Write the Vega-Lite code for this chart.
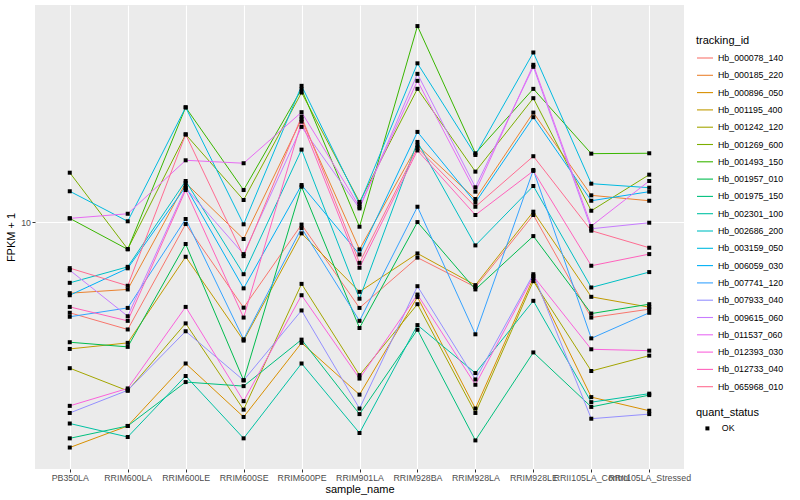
{
"$schema": "https://vega.github.io/schema/vega-lite/v6.json",
"width": 649, "height": 464,
"autosize": {"type": "none"},
"padding": {"left": 35, "top": 5, "right": 116, "bottom": 31},
"background": "white",
"config": {
  "view": {"fill": "#EBEBEB", "stroke": null},
  "font": "Liberation Sans",
  "axis": {"domain": false, "gridColor": "white", "gridWidth": 1.1, "tickColor": "#333333", "tickSize": 3, "labelColor": "#4D4D4D", "labelFontSize": 8.8, "titleFontSize": 11, "titleFontWeight": "normal", "titleColor": "black"}
},
"data": {"values": [
{"tracking_id":"Hb_000078_140","sample_name":"PB350LA","FPKM":5.00,"quant_status":"OK"},
{"tracking_id":"Hb_000078_140","sample_name":"RRIM600LA","FPKM":4.40,"quant_status":"OK"},
{"tracking_id":"Hb_000078_140","sample_name":"RRIM600LE","FPKM":9.87,"quant_status":"OK"},
{"tracking_id":"Hb_000078_140","sample_name":"RRIM600SE","FPKM":5.20,"quant_status":"OK"},
{"tracking_id":"Hb_000078_140","sample_name":"RRIM600PE","FPKM":9.83,"quant_status":"OK"},
{"tracking_id":"Hb_000078_140","sample_name":"RRIM901LA","FPKM":5.19,"quant_status":"OK"},
{"tracking_id":"Hb_000078_140","sample_name":"RRIM928BA","FPKM":7.63,"quant_status":"OK"},
{"tracking_id":"Hb_000078_140","sample_name":"RRIM928LA","FPKM":6.09,"quant_status":"OK"},
{"tracking_id":"Hb_000078_140","sample_name":"RRIM928LE","FPKM":10.58,"quant_status":"OK"},
{"tracking_id":"Hb_000078_140","sample_name":"RRII105LA_Control","FPKM":4.82,"quant_status":"OK"},
{"tracking_id":"Hb_000078_140","sample_name":"RRII105LA_Stressed","FPKM":5.14,"quant_status":"OK"},
{"tracking_id":"Hb_000185_220","sample_name":"PB350LA","FPKM":5.81,"quant_status":"OK"},
{"tracking_id":"Hb_000185_220","sample_name":"RRIM600LA","FPKM":5.98,"quant_status":"OK"},
{"tracking_id":"Hb_000185_220","sample_name":"RRIM600LE","FPKM":13.52,"quant_status":"OK"},
{"tracking_id":"Hb_000185_220","sample_name":"RRIM600SE","FPKM":8.80,"quant_status":"OK"},
{"tracking_id":"Hb_000185_220","sample_name":"RRIM600PE","FPKM":22.05,"quant_status":"OK"},
{"tracking_id":"Hb_000185_220","sample_name":"RRIM901LA","FPKM":8.13,"quant_status":"OK"},
{"tracking_id":"Hb_000185_220","sample_name":"RRIM928BA","FPKM":18.03,"quant_status":"OK"},
{"tracking_id":"Hb_000185_220","sample_name":"RRIM928LA","FPKM":11.96,"quant_status":"OK"},
{"tracking_id":"Hb_000185_220","sample_name":"RRIM928LE","FPKM":23.19,"quant_status":"OK"},
{"tracking_id":"Hb_000185_220","sample_name":"RRII105LA_Control","FPKM":12.30,"quant_status":"OK"},
{"tracking_id":"Hb_000185_220","sample_name":"RRII105LA_Stressed","FPKM":11.80,"quant_status":"OK"},
{"tracking_id":"Hb_000896_050","sample_name":"PB350LA","FPKM":1.78,"quant_status":"OK"},
{"tracking_id":"Hb_000896_050","sample_name":"RRIM600LA","FPKM":2.10,"quant_status":"OK"},
{"tracking_id":"Hb_000896_050","sample_name":"RRIM600LE","FPKM":3.39,"quant_status":"OK"},
{"tracking_id":"Hb_000896_050","sample_name":"RRIM600SE","FPKM":2.25,"quant_status":"OK"},
{"tracking_id":"Hb_000896_050","sample_name":"RRIM600PE","FPKM":3.97,"quant_status":"OK"},
{"tracking_id":"Hb_000896_050","sample_name":"RRIM901LA","FPKM":2.67,"quant_status":"OK"},
{"tracking_id":"Hb_000896_050","sample_name":"RRIM928BA","FPKM":5.64,"quant_status":"OK"},
{"tracking_id":"Hb_000896_050","sample_name":"RRIM928LA","FPKM":2.40,"quant_status":"OK"},
{"tracking_id":"Hb_000896_050","sample_name":"RRIM928LE","FPKM":6.52,"quant_status":"OK"},
{"tracking_id":"Hb_000896_050","sample_name":"RRII105LA_Control","FPKM":2.62,"quant_status":"OK"},
{"tracking_id":"Hb_000896_050","sample_name":"RRII105LA_Stressed","FPKM":2.36,"quant_status":"OK"},
{"tracking_id":"Hb_001195_400","sample_name":"PB350LA","FPKM":3.79,"quant_status":"OK"},
{"tracking_id":"Hb_001195_400","sample_name":"RRIM600LA","FPKM":3.97,"quant_status":"OK"},
{"tracking_id":"Hb_001195_400","sample_name":"RRIM600LE","FPKM":7.68,"quant_status":"OK"},
{"tracking_id":"Hb_001195_400","sample_name":"RRIM600SE","FPKM":4.04,"quant_status":"OK"},
{"tracking_id":"Hb_001195_400","sample_name":"RRIM600PE","FPKM":9.19,"quant_status":"OK"},
{"tracking_id":"Hb_001195_400","sample_name":"RRIM901LA","FPKM":5.87,"quant_status":"OK"},
{"tracking_id":"Hb_001195_400","sample_name":"RRIM928BA","FPKM":7.88,"quant_status":"OK"},
{"tracking_id":"Hb_001195_400","sample_name":"RRIM928LA","FPKM":6.18,"quant_status":"OK"},
{"tracking_id":"Hb_001195_400","sample_name":"RRIM928LE","FPKM":10.85,"quant_status":"OK"},
{"tracking_id":"Hb_001195_400","sample_name":"RRII105LA_Control","FPKM":5.65,"quant_status":"OK"},
{"tracking_id":"Hb_001195_400","sample_name":"RRII105LA_Stressed","FPKM":5.22,"quant_status":"OK"},
{"tracking_id":"Hb_001242_120","sample_name":"PB350LA","FPKM":3.27,"quant_status":"OK"},
{"tracking_id":"Hb_001242_120","sample_name":"RRIM600LA","FPKM":2.75,"quant_status":"OK"},
{"tracking_id":"Hb_001242_120","sample_name":"RRIM600LE","FPKM":4.61,"quant_status":"OK"},
{"tracking_id":"Hb_001242_120","sample_name":"RRIM600SE","FPKM":2.38,"quant_status":"OK"},
{"tracking_id":"Hb_001242_120","sample_name":"RRIM600PE","FPKM":6.24,"quant_status":"OK"},
{"tracking_id":"Hb_001242_120","sample_name":"RRIM901LA","FPKM":3.10,"quant_status":"OK"},
{"tracking_id":"Hb_001242_120","sample_name":"RRIM928BA","FPKM":5.34,"quant_status":"OK"},
{"tracking_id":"Hb_001242_120","sample_name":"RRIM928LA","FPKM":2.32,"quant_status":"OK"},
{"tracking_id":"Hb_001242_120","sample_name":"RRIM928LE","FPKM":6.37,"quant_status":"OK"},
{"tracking_id":"Hb_001242_120","sample_name":"RRII105LA_Control","FPKM":3.20,"quant_status":"OK"},
{"tracking_id":"Hb_001242_120","sample_name":"RRII105LA_Stressed","FPKM":3.60,"quant_status":"OK"},
{"tracking_id":"Hb_001269_600","sample_name":"PB350LA","FPKM":14.63,"quant_status":"OK"},
{"tracking_id":"Hb_001269_600","sample_name":"RRIM600LA","FPKM":8.15,"quant_status":"OK"},
{"tracking_id":"Hb_001269_600","sample_name":"RRIM600LE","FPKM":19.62,"quant_status":"OK"},
{"tracking_id":"Hb_001269_600","sample_name":"RRIM600SE","FPKM":11.87,"quant_status":"OK"},
{"tracking_id":"Hb_001269_600","sample_name":"RRIM600PE","FPKM":27.04,"quant_status":"OK"},
{"tracking_id":"Hb_001269_600","sample_name":"RRIM901LA","FPKM":11.69,"quant_status":"OK"},
{"tracking_id":"Hb_001269_600","sample_name":"RRIM928BA","FPKM":27.82,"quant_status":"OK"},
{"tracking_id":"Hb_001269_600","sample_name":"RRIM928LA","FPKM":14.75,"quant_status":"OK"},
{"tracking_id":"Hb_001269_600","sample_name":"RRIM928LE","FPKM":25.90,"quant_status":"OK"},
{"tracking_id":"Hb_001269_600","sample_name":"RRII105LA_Control","FPKM":10.93,"quant_status":"OK"},
{"tracking_id":"Hb_001269_600","sample_name":"RRII105LA_Stressed","FPKM":14.41,"quant_status":"OK"},
{"tracking_id":"Hb_001493_150","sample_name":"PB350LA","FPKM":10.31,"quant_status":"OK"},
{"tracking_id":"Hb_001493_150","sample_name":"RRIM600LA","FPKM":8.13,"quant_status":"OK"},
{"tracking_id":"Hb_001493_150","sample_name":"RRIM600LE","FPKM":24.14,"quant_status":"OK"},
{"tracking_id":"Hb_001493_150","sample_name":"RRIM600SE","FPKM":12.81,"quant_status":"OK"},
{"tracking_id":"Hb_001493_150","sample_name":"RRIM600PE","FPKM":27.75,"quant_status":"OK"},
{"tracking_id":"Hb_001493_150","sample_name":"RRIM901LA","FPKM":9.67,"quant_status":"OK"},
{"tracking_id":"Hb_001493_150","sample_name":"RRIM928BA","FPKM":45.01,"quant_status":"OK"},
{"tracking_id":"Hb_001493_150","sample_name":"RRIM928LA","FPKM":16.98,"quant_status":"OK"},
{"tracking_id":"Hb_001493_150","sample_name":"RRIM928LE","FPKM":27.82,"quant_status":"OK"},
{"tracking_id":"Hb_001493_150","sample_name":"RRII105LA_Control","FPKM":16.93,"quant_status":"OK"},
{"tracking_id":"Hb_001493_150","sample_name":"RRII105LA_Stressed","FPKM":16.98,"quant_status":"OK"},
{"tracking_id":"Hb_001957_010","sample_name":"PB350LA","FPKM":3.99,"quant_status":"OK"},
{"tracking_id":"Hb_001957_010","sample_name":"RRIM600LA","FPKM":3.85,"quant_status":"OK"},
{"tracking_id":"Hb_001957_010","sample_name":"RRIM600LE","FPKM":8.47,"quant_status":"OK"},
{"tracking_id":"Hb_001957_010","sample_name":"RRIM600SE","FPKM":2.98,"quant_status":"OK"},
{"tracking_id":"Hb_001957_010","sample_name":"RRIM600PE","FPKM":13.14,"quant_status":"OK"},
{"tracking_id":"Hb_001957_010","sample_name":"RRIM901LA","FPKM":4.45,"quant_status":"OK"},
{"tracking_id":"Hb_001957_010","sample_name":"RRIM928BA","FPKM":10.02,"quant_status":"OK"},
{"tracking_id":"Hb_001957_010","sample_name":"RRIM928LA","FPKM":5.98,"quant_status":"OK"},
{"tracking_id":"Hb_001957_010","sample_name":"RRIM928LE","FPKM":9.00,"quant_status":"OK"},
{"tracking_id":"Hb_001957_010","sample_name":"RRII105LA_Control","FPKM":4.97,"quant_status":"OK"},
{"tracking_id":"Hb_001957_010","sample_name":"RRII105LA_Stressed","FPKM":5.34,"quant_status":"OK"},
{"tracking_id":"Hb_001975_150","sample_name":"PB350LA","FPKM":1.91,"quant_status":"OK"},
{"tracking_id":"Hb_001975_150","sample_name":"RRIM600LA","FPKM":2.10,"quant_status":"OK"},
{"tracking_id":"Hb_001975_150","sample_name":"RRIM600LE","FPKM":2.94,"quant_status":"OK"},
{"tracking_id":"Hb_001975_150","sample_name":"RRIM600SE","FPKM":2.85,"quant_status":"OK"},
{"tracking_id":"Hb_001975_150","sample_name":"RRIM600PE","FPKM":4.07,"quant_status":"OK"},
{"tracking_id":"Hb_001975_150","sample_name":"RRIM901LA","FPKM":2.30,"quant_status":"OK"},
{"tracking_id":"Hb_001975_150","sample_name":"RRIM928BA","FPKM":4.39,"quant_status":"OK"},
{"tracking_id":"Hb_001975_150","sample_name":"RRIM928LA","FPKM":1.88,"quant_status":"OK"},
{"tracking_id":"Hb_001975_150","sample_name":"RRIM928LE","FPKM":3.69,"quant_status":"OK"},
{"tracking_id":"Hb_001975_150","sample_name":"RRII105LA_Control","FPKM":2.43,"quant_status":"OK"},
{"tracking_id":"Hb_001975_150","sample_name":"RRII105LA_Stressed","FPKM":2.66,"quant_status":"OK"},
{"tracking_id":"Hb_002301_100","sample_name":"PB350LA","FPKM":2.14,"quant_status":"OK"},
{"tracking_id":"Hb_002301_100","sample_name":"RRIM600LA","FPKM":1.93,"quant_status":"OK"},
{"tracking_id":"Hb_002301_100","sample_name":"RRIM600LE","FPKM":3.08,"quant_status":"OK"},
{"tracking_id":"Hb_002301_100","sample_name":"RRIM600SE","FPKM":1.91,"quant_status":"OK"},
{"tracking_id":"Hb_002301_100","sample_name":"RRIM600PE","FPKM":3.39,"quant_status":"OK"},
{"tracking_id":"Hb_002301_100","sample_name":"RRIM901LA","FPKM":1.99,"quant_status":"OK"},
{"tracking_id":"Hb_002301_100","sample_name":"RRIM928BA","FPKM":4.55,"quant_status":"OK"},
{"tracking_id":"Hb_002301_100","sample_name":"RRIM928LA","FPKM":3.15,"quant_status":"OK"},
{"tracking_id":"Hb_002301_100","sample_name":"RRIM928LE","FPKM":5.48,"quant_status":"OK"},
{"tracking_id":"Hb_002301_100","sample_name":"RRII105LA_Control","FPKM":2.52,"quant_status":"OK"},
{"tracking_id":"Hb_002301_100","sample_name":"RRII105LA_Stressed","FPKM":2.69,"quant_status":"OK"},
{"tracking_id":"Hb_002686_200","sample_name":"PB350LA","FPKM":6.29,"quant_status":"OK"},
{"tracking_id":"Hb_002686_200","sample_name":"RRIM600LA","FPKM":7.11,"quant_status":"OK"},
{"tracking_id":"Hb_002686_200","sample_name":"RRIM600LE","FPKM":13.73,"quant_status":"OK"},
{"tracking_id":"Hb_002686_200","sample_name":"RRIM600SE","FPKM":6.72,"quant_status":"OK"},
{"tracking_id":"Hb_002686_200","sample_name":"RRIM600PE","FPKM":17.46,"quant_status":"OK"},
{"tracking_id":"Hb_002686_200","sample_name":"RRIM901LA","FPKM":5.57,"quant_status":"OK"},
{"tracking_id":"Hb_002686_200","sample_name":"RRIM928BA","FPKM":18.52,"quant_status":"OK"},
{"tracking_id":"Hb_002686_200","sample_name":"RRIM928LA","FPKM":8.38,"quant_status":"OK"},
{"tracking_id":"Hb_002686_200","sample_name":"RRIM928LE","FPKM":13.21,"quant_status":"OK"},
{"tracking_id":"Hb_002686_200","sample_name":"RRII105LA_Control","FPKM":6.07,"quant_status":"OK"},
{"tracking_id":"Hb_002686_200","sample_name":"RRII105LA_Stressed","FPKM":6.83,"quant_status":"OK"},
{"tracking_id":"Hb_003159_050","sample_name":"PB350LA","FPKM":12.69,"quant_status":"OK"},
{"tracking_id":"Hb_003159_050","sample_name":"RRIM600LA","FPKM":10.08,"quant_status":"OK"},
{"tracking_id":"Hb_003159_050","sample_name":"RRIM600LE","FPKM":24.14,"quant_status":"OK"},
{"tracking_id":"Hb_003159_050","sample_name":"RRIM600SE","FPKM":9.85,"quant_status":"OK"},
{"tracking_id":"Hb_003159_050","sample_name":"RRIM600PE","FPKM":28.47,"quant_status":"OK"},
{"tracking_id":"Hb_003159_050","sample_name":"RRIM901LA","FPKM":11.51,"quant_status":"OK"},
{"tracking_id":"Hb_003159_050","sample_name":"RRIM928BA","FPKM":33.83,"quant_status":"OK"},
{"tracking_id":"Hb_003159_050","sample_name":"RRIM928LA","FPKM":16.76,"quant_status":"OK"},
{"tracking_id":"Hb_003159_050","sample_name":"RRIM928LE","FPKM":36.76,"quant_status":"OK"},
{"tracking_id":"Hb_003159_050","sample_name":"RRII105LA_Control","FPKM":13.45,"quant_status":"OK"},
{"tracking_id":"Hb_003159_050","sample_name":"RRII105LA_Stressed","FPKM":13.04,"quant_status":"OK"},
{"tracking_id":"Hb_006059_030","sample_name":"PB350LA","FPKM":5.72,"quant_status":"OK"},
{"tracking_id":"Hb_006059_030","sample_name":"RRIM600LA","FPKM":7.03,"quant_status":"OK"},
{"tracking_id":"Hb_006059_030","sample_name":"RRIM600LE","FPKM":13.16,"quant_status":"OK"},
{"tracking_id":"Hb_006059_030","sample_name":"RRIM600SE","FPKM":6.03,"quant_status":"OK"},
{"tracking_id":"Hb_006059_030","sample_name":"RRIM600PE","FPKM":13.31,"quant_status":"OK"},
{"tracking_id":"Hb_006059_030","sample_name":"RRIM901LA","FPKM":7.82,"quant_status":"OK"},
{"tracking_id":"Hb_006059_030","sample_name":"RRIM928BA","FPKM":20.00,"quant_status":"OK"},
{"tracking_id":"Hb_006059_030","sample_name":"RRIM928LA","FPKM":11.64,"quant_status":"OK"},
{"tracking_id":"Hb_006059_030","sample_name":"RRIM928LE","FPKM":22.39,"quant_status":"OK"},
{"tracking_id":"Hb_006059_030","sample_name":"RRII105LA_Control","FPKM":11.80,"quant_status":"OK"},
{"tracking_id":"Hb_006059_030","sample_name":"RRII105LA_Stressed","FPKM":12.65,"quant_status":"OK"},
{"tracking_id":"Hb_007741_120","sample_name":"PB350LA","FPKM":4.85,"quant_status":"OK"},
{"tracking_id":"Hb_007741_120","sample_name":"RRIM600LA","FPKM":5.19,"quant_status":"OK"},
{"tracking_id":"Hb_007741_120","sample_name":"RRIM600LE","FPKM":10.26,"quant_status":"OK"},
{"tracking_id":"Hb_007741_120","sample_name":"RRIM600SE","FPKM":4.08,"quant_status":"OK"},
{"tracking_id":"Hb_007741_120","sample_name":"RRIM600PE","FPKM":9.57,"quant_status":"OK"},
{"tracking_id":"Hb_007741_120","sample_name":"RRIM901LA","FPKM":4.70,"quant_status":"OK"},
{"tracking_id":"Hb_007741_120","sample_name":"RRIM928BA","FPKM":11.27,"quant_status":"OK"},
{"tracking_id":"Hb_007741_120","sample_name":"RRIM928LA","FPKM":4.24,"quant_status":"OK"},
{"tracking_id":"Hb_007741_120","sample_name":"RRIM928LE","FPKM":14.94,"quant_status":"OK"},
{"tracking_id":"Hb_007741_120","sample_name":"RRII105LA_Control","FPKM":4.11,"quant_status":"OK"},
{"tracking_id":"Hb_007741_120","sample_name":"RRII105LA_Stressed","FPKM":5.00,"quant_status":"OK"},
{"tracking_id":"Hb_007933_040","sample_name":"PB350LA","FPKM":2.32,"quant_status":"OK"},
{"tracking_id":"Hb_007933_040","sample_name":"RRIM600LA","FPKM":2.76,"quant_status":"OK"},
{"tracking_id":"Hb_007933_040","sample_name":"RRIM600LE","FPKM":4.34,"quant_status":"OK"},
{"tracking_id":"Hb_007933_040","sample_name":"RRIM600SE","FPKM":2.98,"quant_status":"OK"},
{"tracking_id":"Hb_007933_040","sample_name":"RRIM600PE","FPKM":5.09,"quant_status":"OK"},
{"tracking_id":"Hb_007933_040","sample_name":"RRIM901LA","FPKM":2.40,"quant_status":"OK"},
{"tracking_id":"Hb_007933_040","sample_name":"RRIM928BA","FPKM":6.13,"quant_status":"OK"},
{"tracking_id":"Hb_007933_040","sample_name":"RRIM928LA","FPKM":3.00,"quant_status":"OK"},
{"tracking_id":"Hb_007933_040","sample_name":"RRIM928LE","FPKM":6.72,"quant_status":"OK"},
{"tracking_id":"Hb_007933_040","sample_name":"RRII105LA_Control","FPKM":2.22,"quant_status":"OK"},
{"tracking_id":"Hb_007933_040","sample_name":"RRII105LA_Stressed","FPKM":2.30,"quant_status":"OK"},
{"tracking_id":"Hb_009615_060","sample_name":"PB350LA","FPKM":6.93,"quant_status":"OK"},
{"tracking_id":"Hb_009615_060","sample_name":"RRIM600LA","FPKM":4.87,"quant_status":"OK"},
{"tracking_id":"Hb_009615_060","sample_name":"RRIM600LE","FPKM":13.01,"quant_status":"OK"},
{"tracking_id":"Hb_009615_060","sample_name":"RRIM600SE","FPKM":7.84,"quant_status":"OK"},
{"tracking_id":"Hb_009615_060","sample_name":"RRIM600PE","FPKM":20.78,"quant_status":"OK"},
{"tracking_id":"Hb_009615_060","sample_name":"RRIM901LA","FPKM":11.13,"quant_status":"OK"},
{"tracking_id":"Hb_009615_060","sample_name":"RRIM928BA","FPKM":31.21,"quant_status":"OK"},
{"tracking_id":"Hb_009615_060","sample_name":"RRIM928LA","FPKM":13.08,"quant_status":"OK"},
{"tracking_id":"Hb_009615_060","sample_name":"RRIM928LE","FPKM":32.94,"quant_status":"OK"},
{"tracking_id":"Hb_009615_060","sample_name":"RRII105LA_Control","FPKM":9.52,"quant_status":"OK"},
{"tracking_id":"Hb_009615_060","sample_name":"RRII105LA_Stressed","FPKM":9.97,"quant_status":"OK"},
{"tracking_id":"Hb_011537_060","sample_name":"PB350LA","FPKM":10.31,"quant_status":"OK"},
{"tracking_id":"Hb_011537_060","sample_name":"RRIM600LA","FPKM":10.68,"quant_status":"OK"},
{"tracking_id":"Hb_011537_060","sample_name":"RRIM600LE","FPKM":16.09,"quant_status":"OK"},
{"tracking_id":"Hb_011537_060","sample_name":"RRIM600SE","FPKM":15.73,"quant_status":"OK"},
{"tracking_id":"Hb_011537_060","sample_name":"RRIM600PE","FPKM":23.26,"quant_status":"OK"},
{"tracking_id":"Hb_011537_060","sample_name":"RRIM901LA","FPKM":11.27,"quant_status":"OK"},
{"tracking_id":"Hb_011537_060","sample_name":"RRIM928BA","FPKM":29.58,"quant_status":"OK"},
{"tracking_id":"Hb_011537_060","sample_name":"RRIM928LA","FPKM":12.65,"quant_status":"OK"},
{"tracking_id":"Hb_011537_060","sample_name":"RRIM928LE","FPKM":33.45,"quant_status":"OK"},
{"tracking_id":"Hb_011537_060","sample_name":"RRII105LA_Control","FPKM":9.72,"quant_status":"OK"},
{"tracking_id":"Hb_011537_060","sample_name":"RRII105LA_Stressed","FPKM":13.73,"quant_status":"OK"},
{"tracking_id":"Hb_012393_030","sample_name":"PB350LA","FPKM":2.45,"quant_status":"OK"},
{"tracking_id":"Hb_012393_030","sample_name":"RRIM600LA","FPKM":2.80,"quant_status":"OK"},
{"tracking_id":"Hb_012393_030","sample_name":"RRIM600LE","FPKM":5.23,"quant_status":"OK"},
{"tracking_id":"Hb_012393_030","sample_name":"RRIM600SE","FPKM":2.54,"quant_status":"OK"},
{"tracking_id":"Hb_012393_030","sample_name":"RRIM600PE","FPKM":5.72,"quant_status":"OK"},
{"tracking_id":"Hb_012393_030","sample_name":"RRIM901LA","FPKM":3.02,"quant_status":"OK"},
{"tracking_id":"Hb_012393_030","sample_name":"RRIM928BA","FPKM":5.75,"quant_status":"OK"},
{"tracking_id":"Hb_012393_030","sample_name":"RRIM928LA","FPKM":2.88,"quant_status":"OK"},
{"tracking_id":"Hb_012393_030","sample_name":"RRIM928LE","FPKM":6.62,"quant_status":"OK"},
{"tracking_id":"Hb_012393_030","sample_name":"RRII105LA_Control","FPKM":3.78,"quant_status":"OK"},
{"tracking_id":"Hb_012393_030","sample_name":"RRII105LA_Stressed","FPKM":3.74,"quant_status":"OK"},
{"tracking_id":"Hb_012733_040","sample_name":"PB350LA","FPKM":5.23,"quant_status":"OK"},
{"tracking_id":"Hb_012733_040","sample_name":"RRIM600LA","FPKM":4.70,"quant_status":"OK"},
{"tracking_id":"Hb_012733_040","sample_name":"RRIM600LE","FPKM":12.81,"quant_status":"OK"},
{"tracking_id":"Hb_012733_040","sample_name":"RRIM600SE","FPKM":4.82,"quant_status":"OK"},
{"tracking_id":"Hb_012733_040","sample_name":"RRIM600PE","FPKM":21.64,"quant_status":"OK"},
{"tracking_id":"Hb_012733_040","sample_name":"RRIM901LA","FPKM":7.06,"quant_status":"OK"},
{"tracking_id":"Hb_012733_040","sample_name":"RRIM928BA","FPKM":17.35,"quant_status":"OK"},
{"tracking_id":"Hb_012733_040","sample_name":"RRIM928LA","FPKM":10.58,"quant_status":"OK"},
{"tracking_id":"Hb_012733_040","sample_name":"RRIM928LE","FPKM":14.83,"quant_status":"OK"},
{"tracking_id":"Hb_012733_040","sample_name":"RRII105LA_Control","FPKM":7.17,"quant_status":"OK"},
{"tracking_id":"Hb_012733_040","sample_name":"RRII105LA_Stressed","FPKM":7.84,"quant_status":"OK"},
{"tracking_id":"Hb_065968_010","sample_name":"PB350LA","FPKM":7.04,"quant_status":"OK"},
{"tracking_id":"Hb_065968_010","sample_name":"RRIM600LA","FPKM":6.15,"quant_status":"OK"},
{"tracking_id":"Hb_065968_010","sample_name":"RRIM600LE","FPKM":19.62,"quant_status":"OK"},
{"tracking_id":"Hb_065968_010","sample_name":"RRIM600SE","FPKM":7.72,"quant_status":"OK"},
{"tracking_id":"Hb_065968_010","sample_name":"RRIM600PE","FPKM":22.49,"quant_status":"OK"},
{"tracking_id":"Hb_065968_010","sample_name":"RRIM901LA","FPKM":7.33,"quant_status":"OK"},
{"tracking_id":"Hb_065968_010","sample_name":"RRIM928BA","FPKM":17.69,"quant_status":"OK"},
{"tracking_id":"Hb_065968_010","sample_name":"RRIM928LA","FPKM":11.27,"quant_status":"OK"},
{"tracking_id":"Hb_065968_010","sample_name":"RRIM928LE","FPKM":16.60,"quant_status":"OK"},
{"tracking_id":"Hb_065968_010","sample_name":"RRII105LA_Control","FPKM":9.38,"quant_status":"OK"},
{"tracking_id":"Hb_065968_010","sample_name":"RRII105LA_Stressed","FPKM":8.23,"quant_status":"OK"}
]},
"encoding": {
  "x": {"field": "sample_name", "type": "nominal",
        "scale": {"type": "point", "padding": 0.6, "domain": ["PB350LA","RRIM600LA","RRIM600LE","RRIM600SE","RRIM600PE","RRIM901LA","RRIM928BA","RRIM928LA","RRIM928LE","RRII105LA_Control","RRII105LA_Stressed"]},
        "axis": {"title": "sample_name", "labelAngle": 0, "labelOverlap": false, "labelBound": false, "labelFlush": false, "labelPadding": 1.5, "titlePadding": 1, "grid": true}},
  "y": {"field": "FPKM", "type": "quantitative",
        "scale": {"type": "log", "domain": [1.51, 52.9], "nice": false, "zero": false},
        "axis": {"title": "FPKM + 1", "values": [10], "format": "d", "labelPadding": 1.5, "titlePadding": 4, "grid": true}}
},
"layer": [
  {"mark": {"type": "line", "strokeWidth": 1},
   "encoding": {
     "color": {"field": "tracking_id", "type": "nominal",
       "scale": {"domain": ["Hb_000078_140","Hb_000185_220","Hb_000896_050","Hb_001195_400","Hb_001242_120","Hb_001269_600","Hb_001493_150","Hb_001957_010","Hb_001975_150","Hb_002301_100","Hb_002686_200","Hb_003159_050","Hb_006059_030","Hb_007741_120","Hb_007933_040","Hb_009615_060","Hb_011537_060","Hb_012393_030","Hb_012733_040","Hb_065968_010"],
                 "range": ["#F8766D","#EA8331","#D89000","#C09B00","#A3A500","#7CAE00","#39B600","#00BB4E","#00BF7D","#00C1A3","#00BFC4","#00BAE0","#00B0F6","#35A2FF","#9590FF","#C77CFF","#E76BF3","#FA62DB","#FF62BC","#FF6C91"]},
       "legend": {"title": "tracking_id", "orient": "none", "legendX": 661, "legendY": 30, "titleFontSize": 11, "titleFontWeight": "normal", "titleColor": "black", "titlePadding": 3, "labelFontSize": 8.8, "labelColor": "black", "symbolType": "stroke", "symbolSize": 256, "symbolStrokeWidth": 1.1, "rowPadding": 3.3, "labelOffset": 4}},
     "order": {"value": null}
   }},
  {"mark": {"type": "point", "filled": true, "color": "black", "size": 16, "opacity": 1},
   "encoding": {
     "shape": {"field": "quant_status", "type": "nominal", "scale": {"range": ["square"]},
       "legend": {"title": "quant_status", "orient": "none", "legendX": 661, "legendY": 402, "titleFontSize": 11, "titleFontWeight": "normal", "titleColor": "black", "titlePadding": 6, "labelFontSize": 8.8, "labelColor": "black", "symbolSize": 16, "symbolFillColor": "black", "symbolStrokeColor": "black", "symbolOffset": 7, "labelOffset": 10}}
   }}
]
}
